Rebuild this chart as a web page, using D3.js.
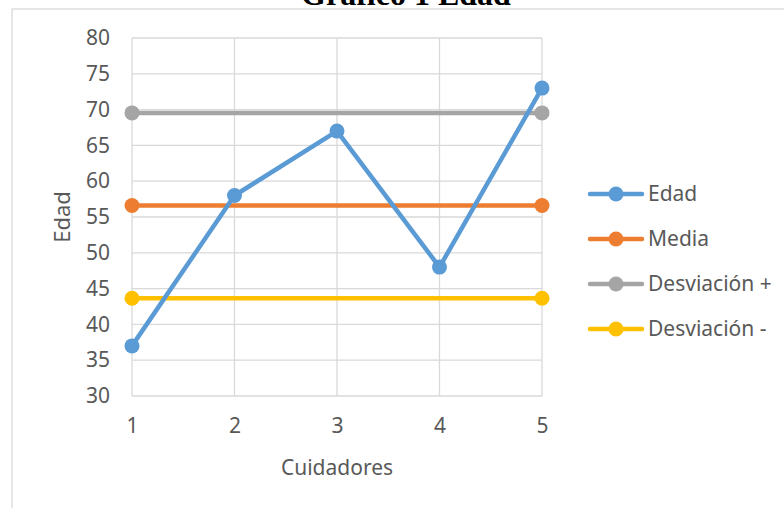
<!DOCTYPE html>
<html>
<head>
<meta charset="utf-8">
<script src="https://cdn.jsdelivr.net/npm/d3@7"></script>
<style>
  html, body { margin: 0; padding: 0; background: #fff; }
  svg { display: block; }
</style>
</head>
<body>
<svg id="chart" width="784" height="508"></svg>
<script>
// Cuidadores (x categories) and the age series
const cuidadores = [1, 2, 3, 4, 5];
const edad = [37, 58, 67, 48, 73];
// Summary lines span from the first to the last cuidador
const extremos = [1, 5];
const media = [56.6, 56.6];
const desviacionMas = [69.54, 69.54];
const desviacionMenos = [43.66, 43.66];
const yTicks = [30, 35, 40, 45, 50, 55, 60, 65, 70, 75, 80];

const series = [
  { name: "Edad", xs: cuidadores, values: edad, color: "#5B9BD5" },
  { name: "Media", xs: extremos, values: media, color: "#ED7D31" },
  { name: "Desviación +", xs: extremos, values: desviacionMas, color: "#A5A5A5" },
  { name: "Desviación -", xs: extremos, values: desviacionMenos, color: "#FFC000" }
];

const svg = d3.select("#chart");
const font = "'Noto Sans', 'Open Sans', sans-serif";
const textColor = "#595959";
const gridColor = "#D9D9D9";

// Title sits above the chart frame
svg.append("text")
  .attr("x", 406).attr("y", 5)
  .attr("text-anchor", "middle")
  .attr("font-family", "'Liberation Serif', 'Times New Roman', serif")
  .attr("font-weight", "bold")
  .attr("font-size", 32)
  .attr("fill", "#000")
  .text("Gráfico 1 Edad");

// Chart frame
svg.append("rect")
  .attr("x", 12).attr("y", 9)
  .attr("width", 900).attr("height", 700)
  .attr("fill", "#fff")
  .attr("stroke", gridColor)
  .attr("stroke-width", 1.3);

const x = d3.scaleLinear().domain([1, 5]).range([132, 542]);
const y = d3.scaleLinear().domain([30, 80]).range([396, 38]);

// Horizontal gridlines
svg.append("g")
  .selectAll("line")
  .data(yTicks)
  .join("line")
  .attr("x1", x(1)).attr("x2", x(5))
  .attr("y1", d => y(d)).attr("y2", d => y(d))
  .attr("stroke", gridColor)
  .attr("stroke-width", 1.3);

// Vertical gridlines at each cuidador
svg.append("g")
  .selectAll("line")
  .data(cuidadores)
  .join("line")
  .attr("x1", d => x(d)).attr("x2", d => x(d))
  .attr("y1", y(80)).attr("y2", y(30))
  .attr("stroke", gridColor)
  .attr("stroke-width", 1.3);

// Y axis labels
const yAxis = d3.axisLeft(y).tickValues(yTicks).tickSize(0).tickPadding(22);
const gy = svg.append("g").attr("transform", `translate(${x(1)},0)`).call(yAxis);
gy.select(".domain").remove();
gy.selectAll("text")
  .attr("font-family", font).attr("font-size", 21)
  .attr("fill", textColor);

// X axis labels
const xAxis = d3.axisBottom(x).tickValues(cuidadores).tickSize(0).tickPadding(22).tickFormat(d3.format("d"));
const gx = svg.append("g").attr("transform", `translate(0,${y(30)})`).call(xAxis);
gx.select(".domain").remove();
gx.selectAll("text")
  .attr("font-family", font).attr("font-size", 21)
  .attr("fill", textColor);

// Axis titles
svg.append("text")
  .attr("x", (x(1) + x(5)) / 2).attr("y", 475)
  .attr("text-anchor", "middle")
  .attr("font-family", font).attr("font-size", 21)
  .attr("fill", textColor)
  .text("Cuidadores");

svg.append("text")
  .attr("transform", `translate(70,${(y(30) + y(80)) / 2}) rotate(-90)`)
  .attr("text-anchor", "middle")
  .attr("font-family", font).attr("font-size", 22)
  .attr("fill", textColor)
  .text("Edad");

// Series lines and markers (drawn in reverse so Edad is on top)
const seriesG = svg.append("g");
series.slice().reverse().forEach(s => {
  const g = seriesG.append("g");
  const line = d3.line().x((d, i) => x(s.xs[i])).y(d => y(d));
  g.append("path")
    .attr("d", line(s.values))
    .attr("fill", "none")
    .attr("stroke", s.color)
    .attr("stroke-width", 4.5)
    .attr("stroke-linejoin", "round");
  g.selectAll("circle")
    .data(s.values)
    .join("circle")
    .attr("cx", (d, i) => x(s.xs[i]))
    .attr("cy", d => y(d))
    .attr("r", 7.5)
    .attr("fill", s.color);
});

// Legend
const legend = svg.append("g");
const legendY = d3.scalePoint().domain(series.map(s => s.name)).range([194, 329]);
series.forEach(s => {
  const ly = legendY(s.name);
  legend.append("line")
    .attr("x1", 590).attr("x2", 642)
    .attr("y1", ly).attr("y2", ly)
    .attr("stroke", s.color)
    .attr("stroke-width", 4.5)
    .attr("stroke-linecap", "round");
  legend.append("circle")
    .attr("cx", 616).attr("cy", ly).attr("r", 7.5)
    .attr("fill", s.color);
  legend.append("text")
    .attr("x", 648).attr("y", ly)
    .attr("dy", "0.35em")
    .attr("font-family", font).attr("font-size", 21)
    .attr("fill", textColor)
    .text(s.name);
});
</script>
</body>
</html>
